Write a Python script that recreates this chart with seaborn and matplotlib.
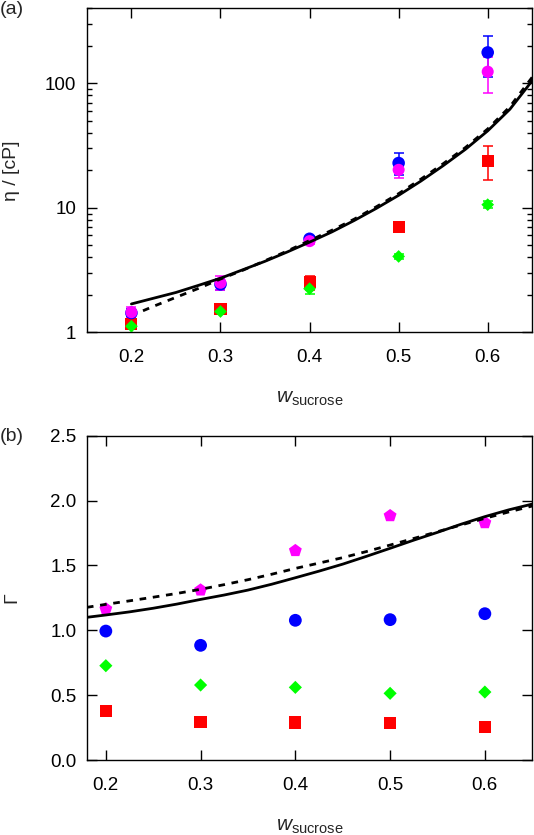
import numpy as np
import pandas as pd
import matplotlib
matplotlib.use("Agg")
import matplotlib.pyplot as plt
import seaborn as sns
from matplotlib.ticker import LogLocator, FixedLocator, NullFormatter, FuncFormatter

# ---------------- data ----------------
w = [0.2, 0.3, 0.4, 0.5, 0.6]

# panel (a): viscosity eta [cP]
eta_blue = [1.43, 2.43, 5.64, 22.9, 177]
eta_blue_err = [0.1, 0.25, 0.3, 4.5, 65]
eta_magenta = [1.45, 2.5, 5.4, 20.2, 124]
eta_magenta_err = [0.15, 0.33, 0.3, 3.0, 40]
eta_red = [1.17, 1.55, 2.53, 6.99, 23.9]
eta_red_err = [0.06, 0.08, 0.33, 0.3, 7.2]
eta_green = [1.12, 1.47, 2.24, 4.07, 10.6]
eta_green_err = [0.06, 0.06, 0.22, 0.2, 0.7]

eta_line_w = [0.2, 0.225, 0.25, 0.275, 0.3, 0.325, 0.35, 0.375, 0.4, 0.425, 0.45, 0.475,
              0.5, 0.525, 0.55, 0.575, 0.6, 0.625, 0.65]
eta_solid = [1.69, 1.88, 2.09, 2.38, 2.72, 3.18, 3.72, 4.42, 5.30, 6.40, 7.90, 9.90,
             12.6, 16.4, 21.8, 29.5, 41.5, 62, 105]
eta_dash_w = [0.213, 0.225, 0.25, 0.275, 0.3, 0.325, 0.35, 0.375, 0.4, 0.425, 0.45, 0.475,
              0.5, 0.525, 0.55, 0.575, 0.6, 0.625, 0.65]
eta_dash = [1.49, 1.62, 1.91, 2.25, 2.68, 3.15, 3.76, 4.50, 5.46, 6.60, 8.10, 10.2,
            13.0, 17.0, 22.6, 30.5, 43, 65, 112]

# panel (b): Gamma
g_magenta = [1.164, 1.31, 1.614, 1.883, 1.829]
g_blue = [0.994, 0.884, 1.077, 1.082, 1.128]
g_green = [0.727, 0.578, 0.56, 0.514, 0.524]
g_red = [0.38, 0.295, 0.29, 0.285, 0.254]

g_line_w = [0.18, 0.2, 0.225, 0.25, 0.275, 0.3, 0.325, 0.35, 0.375, 0.4, 0.425, 0.45,
            0.475, 0.5, 0.525, 0.55, 0.575, 0.6, 0.625, 0.65]
g_solid = [1.100, 1.118, 1.142, 1.170, 1.202, 1.238, 1.272, 1.310, 1.355, 1.405, 1.456, 1.510,
           1.570, 1.632, 1.695, 1.755, 1.818, 1.876, 1.928, 1.973]
g_dash = [1.177, 1.200, 1.227, 1.255, 1.284, 1.316, 1.352, 1.390, 1.432, 1.477, 1.518, 1.560,
          1.607, 1.657, 1.708, 1.760, 1.812, 1.863, 1.912, 1.958]

x_ticks = [0.2, 0.3, 0.4, 0.5, 0.6]
g_ticks = [0.0, 0.5, 1.0, 1.5, 2.0, 2.5]

# ---------------- style ----------------
sns.set_theme(style="ticks")
plt.rcParams['font.family'] = ['Liberation Sans', 'DejaVu Sans']
plt.rcParams['mathtext.fontset'] = 'custom'
plt.rcParams['mathtext.rm'] = 'Liberation Sans'
plt.rcParams['mathtext.it'] = 'Liberation Sans:italic'
FS = 13.5

BLUE = '#0000ff'
RED = '#ff0000'
GREEN = '#00ff00'
MAGENTA = '#ff00ff'
DASH = (0, (2.4, 2.4))

fig = plt.figure(figsize=(5.34, 8.35), dpi=100)
ax1 = fig.add_axes([0.1627, 0.602, 0.834, 0.388])
ax2 = fig.add_axes([0.1627, 0.0898, 0.834, 0.3884])

def style_axes(ax):
    for s in ax.spines.values():
        s.set_linewidth(1.0)
        s.set_color('black')
    ax.tick_params(which='both', direction='in', top=True, right=True,
                   labelsize=FS, colors='black', width=1.0)
    ax.tick_params(which='major', length=7)
    ax.tick_params(which='minor', length=3.5)
    ax.tick_params(axis='x', which='both', pad=12)
    ax.tick_params(axis='y', which='both', pad=7.5)

# ---------- panel (a) ----------
series_a = [
    (eta_red, eta_red_err, RED, 's', 75),
    (eta_green, eta_green_err, GREEN, 'D', 42),
    (eta_blue, eta_blue_err, BLUE, 'o', 82),
    (eta_magenta, eta_magenta_err, MAGENTA, 'o', 75),
]
for vals, errs, col, mk, sz in series_a:
    ax1.errorbar(w, vals, yerr=errs, fmt='none', ecolor=col, elinewidth=1.1,
                 capsize=3.8, capthick=1.1, zorder=2)
    sns.scatterplot(x=w, y=vals, ax=ax1, color=col, marker=mk, s=sz,
                    edgecolor='none', zorder=3, legend=False)

sns.lineplot(x=eta_line_w, y=eta_solid, ax=ax1, color='black', lw=2.0,
             estimator=None, sort=False, zorder=4)
sns.lineplot(x=eta_dash_w, y=eta_dash, ax=ax1, color='black', lw=2.0,
             estimator=None, sort=False, zorder=4, dashes=False, linestyle=DASH)

ax1.set_yscale('log')
ax1.set_xlim(0.15, 0.65)
ax1.set_ylim(1, 400)
ax1.xaxis.set_major_locator(FixedLocator(x_ticks))
ax1.set_xticklabels([f"{t:.1f}" for t in x_ticks])
ax1.yaxis.set_major_locator(FixedLocator([1, 10, 100]))
ax1.yaxis.set_major_formatter(FuncFormatter(lambda v, p: f"{v:g}"))
ax1.yaxis.set_minor_locator(LogLocator(base=10, subs=np.arange(2, 10)))
ax1.yaxis.set_minor_formatter(NullFormatter())
style_axes(ax1)
ax1.set_xlabel(r'$w_{\mathrm{sucrose}}$', fontsize=15)
ax1.xaxis.set_label_coords(0.5, -0.175)
ax1.set_ylabel('η / [cP]', fontsize=FS + 0.5)
ax1.yaxis.set_label_coords(-0.150, 0.5)
fig.text(0.0, 0.999, '(a)', fontsize=FS + 0.5, ha='left', va='top')

# ---------- panel (b) ----------
series_b = [
    (g_red, RED, 's', 78),
    (g_green, GREEN, 'D', 45),
    (g_blue, BLUE, 'o', 85),
    (g_magenta, MAGENTA, 'p', 95),
]
for vals, col, mk, sz in series_b:
    sns.scatterplot(x=w, y=vals, ax=ax2, color=col, marker=mk, s=sz,
                    edgecolor='none', zorder=3, legend=False)

sns.lineplot(x=g_line_w, y=g_solid, ax=ax2, color='black', lw=2.0,
             estimator=None, sort=False, zorder=4)
sns.lineplot(x=g_line_w, y=g_dash, ax=ax2, color='black', lw=2.0,
             estimator=None, sort=False, zorder=4, dashes=False, linestyle=DASH)

ax2.set_xlim(0.18, 0.65)
ax2.set_ylim(0.0, 2.5)
ax2.xaxis.set_major_locator(FixedLocator(x_ticks))
ax2.set_xticklabels([f"{t:.1f}" for t in x_ticks])
ax2.yaxis.set_major_locator(FixedLocator(g_ticks))
ax2.set_yticklabels([f"{t:.1f}" for t in g_ticks])
style_axes(ax2)
ax2.set_xlabel(r'$w_{\mathrm{sucrose}}$', fontsize=15)
ax2.xaxis.set_label_coords(0.5, -0.175)
ax2.set_ylabel('Γ', fontsize=FS + 0.5)
ax2.yaxis.set_label_coords(-0.150, 0.5)
fig.text(0.0, 0.4874, '(b)', fontsize=FS + 0.5, ha='left', va='top')

fig.savefig('out.png', dpi=100)
